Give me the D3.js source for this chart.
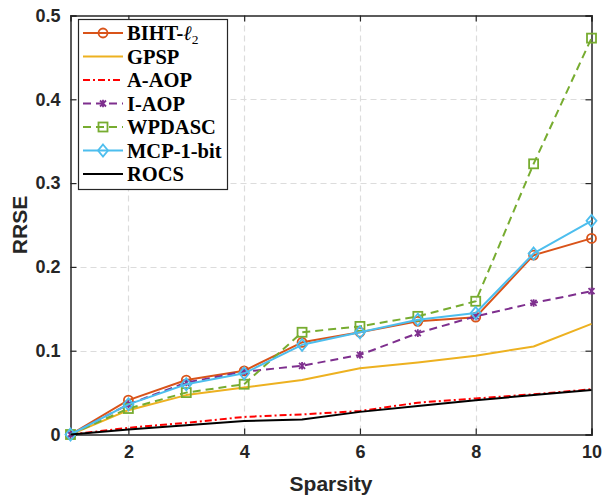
<!DOCTYPE html>
<html>
<head>
<meta charset="utf-8">
<script src="https://cdn.jsdelivr.net/npm/d3@7"></script>
<style>
  html, body { margin: 0; padding: 0; background: #fff; }
  svg { display: block; }
</style>
</head>
<body>
<svg id="chart" width="603" height="496"></svg>
<script>
// Sparsity levels on the x axis
const sparsity = [1, 2, 3, 4, 5, 6, 7, 8, 9, 10];

// RRSE per method
const bihtL2   = [0, 0.041, 0.065, 0.076, 0.110, 0.122, 0.135, 0.140, 0.214, 0.234];
const gpsp     = [0, 0.029, 0.047, 0.056, 0.065, 0.079, 0.086, 0.094, 0.105, 0.132];
const aAop     = [0, 0.008, 0.014, 0.021, 0.024, 0.028, 0.038, 0.043, 0.048, 0.054];
const iAop     = [0, 0.036, 0.062, 0.075, 0.082, 0.095, 0.121, 0.141, 0.157, 0.171];
const wpdasc   = [0, 0.031, 0.050, 0.060, 0.122, 0.129, 0.141, 0.159, 0.323, 0.473];
const mcp1bit  = [0, 0.036, 0.060, 0.073, 0.107, 0.122, 0.137, 0.145, 0.216, 0.255];
const rocs     = [0, 0.006, 0.011, 0.016, 0.018, 0.027, 0.034, 0.041, 0.047, 0.053];

const xTicks = [2, 4, 6, 8, 10];
const yTicks = [0, 0.1, 0.2, 0.3, 0.4, 0.5];

const series = [
  { name: "BIHT", sub: true, values: bihtL2,  color: "#D95319", dash: null,            marker: "circle" },
  { name: "GPSP",            values: gpsp,    color: "#EDB120", dash: null,            marker: null },
  { name: "A-AOP",           values: aAop,    color: "#FF0000", dash: "7,3,2,3",       marker: null },
  { name: "I-AOP",           values: iAop,    color: "#7E2F8E", dash: "8,5",           marker: "star" },
  { name: "WPDASC",          values: wpdasc,  color: "#77AC30", dash: "8,5",           marker: "square" },
  { name: "MCP-1-bit",       values: mcp1bit, color: "#4DBEEE", dash: null,            marker: "diamond" },
  { name: "ROCS",            values: rocs,    color: "#000000", dash: null,            marker: null }
];

const svg = d3.select("#chart");
const m = { left: 70.5, top: 15.5, right: 591.5, bottom: 434.5 };

const x = d3.scaleLinear().domain([1, 10]).range([m.left, m.right]);
const y = d3.scaleLinear().domain([0, 0.5]).range([m.bottom, m.top]);

const axisColor = "#262626";
const tickFont = "'Liberation Sans', Arial, Helvetica, sans-serif";

// Grid
const grid = svg.append("g");
grid.selectAll("line.gx").data([2, 4, 6, 8]).join("line")
  .attr("x1", d => Math.round(x(d)) + 0.5).attr("x2", d => Math.round(x(d)) + 0.5)
  .attr("y1", m.top).attr("y2", m.bottom)
  .attr("stroke", "#dcdcdc").attr("stroke-width", 1.2).attr("stroke-dasharray", "6,4");
grid.selectAll("line.gy").data([0.1, 0.2, 0.3, 0.4]).join("line")
  .attr("y1", d => Math.round(y(d)) + 0.5).attr("y2", d => Math.round(y(d)) + 0.5)
  .attr("x1", m.left).attr("x2", m.right)
  .attr("stroke", "#dcdcdc").attr("stroke-width", 1.2).attr("stroke-dasharray", "6,4");

// Axes (ticks pointing inward on all four sides)
const xAxisB = d3.axisBottom(x).tickValues(xTicks).tickSize(-6).tickPadding(11).tickFormat(d3.format("d"));
const xAxisT = d3.axisTop(x).tickValues(xTicks).tickSize(-6).tickFormat("");
const yAxisL = d3.axisLeft(y).tickValues(yTicks).tickSize(-6).tickPadding(10).tickFormat(d => d === 0 ? "0" : d3.format(".1f")(d));
const yAxisR = d3.axisRight(y).tickValues(yTicks).tickSize(-6).tickFormat("");

function styleAxis(g) {
  g.selectAll("path.domain").attr("stroke", axisColor).attr("stroke-width", 1.5);
  g.selectAll(".tick line").attr("stroke", axisColor).attr("stroke-width", 1.2);
  g.selectAll(".tick text").attr("fill", "#262626")
    .style("font-family", tickFont).style("font-size", "18px").style("font-weight", "bold");
}

svg.append("g").attr("transform", `translate(0,${m.bottom})`).call(xAxisB).call(styleAxis);
svg.append("g").attr("transform", `translate(0,${m.top})`).call(xAxisT).call(styleAxis);
svg.append("g").attr("transform", `translate(${m.left},0)`).call(yAxisL).call(styleAxis);
svg.append("g").attr("transform", `translate(${m.right},0)`).call(yAxisR).call(styleAxis);

// Axis titles
svg.append("text").attr("x", (m.left + m.right) / 2).attr("y", 491)
  .attr("text-anchor", "middle").attr("fill", "#262626")
  .style("font-family", tickFont).style("font-size", "21px").style("font-weight", "bold")
  .text("Sparsity");
svg.append("text").attr("transform", `translate(27,${(m.top + m.bottom) / 2}) rotate(-90)`)
  .attr("text-anchor", "middle").attr("fill", "#262626")
  .style("font-family", tickFont).style("font-size", "21px").style("font-weight", "bold")
  .text("RRSE");

// Marker drawing
function drawMarker(g, type, color) {
  if (type === "circle") {
    g.append("circle").attr("r", 4.5).attr("fill", "none").attr("stroke", color).attr("stroke-width", 1.8);
  } else if (type === "square") {
    g.append("rect").attr("x", -4.5).attr("y", -4.5).attr("width", 9).attr("height", 9)
      .attr("fill", "none").attr("stroke", color).attr("stroke-width", 1.8);
  } else if (type === "diamond") {
    g.append("path").attr("d", "M0,-6L5,0L0,6L-5,0Z")
      .attr("fill", "none").attr("stroke", color).attr("stroke-width", 1.8);
  } else if (type === "star") {
    g.append("path").attr("d", "M-3,-3L3,3M-3,3L3,-3M0,-3.8L0,3.8")
      .attr("fill", "none").attr("stroke", color).attr("stroke-width", 1.8);
  }
}

// Lines (drawn in legend order, ROCS on top of A-AOP)
const line = d3.line().x((d, i) => x(sparsity[i])).y(d => y(d));
const plot = svg.append("g");
series.forEach(s => {
  plot.append("path").datum(s.values).attr("d", line)
    .attr("fill", "none").attr("stroke", s.color).attr("stroke-width", 2)
    .attr("stroke-dasharray", s.dash).attr("stroke-linejoin", "round");
  if (s.marker) {
    s.values.forEach((v, i) => {
      const g = plot.append("g").attr("transform", `translate(${x(sparsity[i])},${y(v)})`);
      drawMarker(g, s.marker, s.color);
    });
  }
});

// Legend
const lg = svg.append("g");
lg.append("rect").attr("x", 78.5).attr("y", 19.5).attr("width", 149).attr("height", 170)
  .attr("fill", "#fff").attr("stroke", axisColor).attr("stroke-width", 1.2);
const legendFont = "'Liberation Serif', 'Times New Roman', serif";
series.forEach((s, i) => {
  const cy = 33 + i * 23.5;
  lg.append("line").attr("x1", 83).attr("x2", 123).attr("y1", cy).attr("y2", cy)
    .attr("stroke", s.color).attr("stroke-width", 2).attr("stroke-dasharray", s.dash);
  if (s.marker) {
    const g = lg.append("g").attr("transform", `translate(103,${cy})`);
    drawMarker(g, s.marker, s.color);
  }
  const t = lg.append("text").attr("x", 127).attr("y", cy + 7).attr("fill", "#000")
    .style("font-family", legendFont).style("font-size", "20.5px").style("font-weight", "bold");
  if (s.sub) {
    t.append("tspan").text("BIHT-");
    t.append("tspan").style("font-style", "italic").style("font-weight", "normal").text("ℓ");
    t.append("tspan").attr("dy", 4).style("font-size", "13.5px").style("font-weight", "normal").text("2");
  } else {
    t.text(s.name);
  }
});
</script>
</body>
</html>
